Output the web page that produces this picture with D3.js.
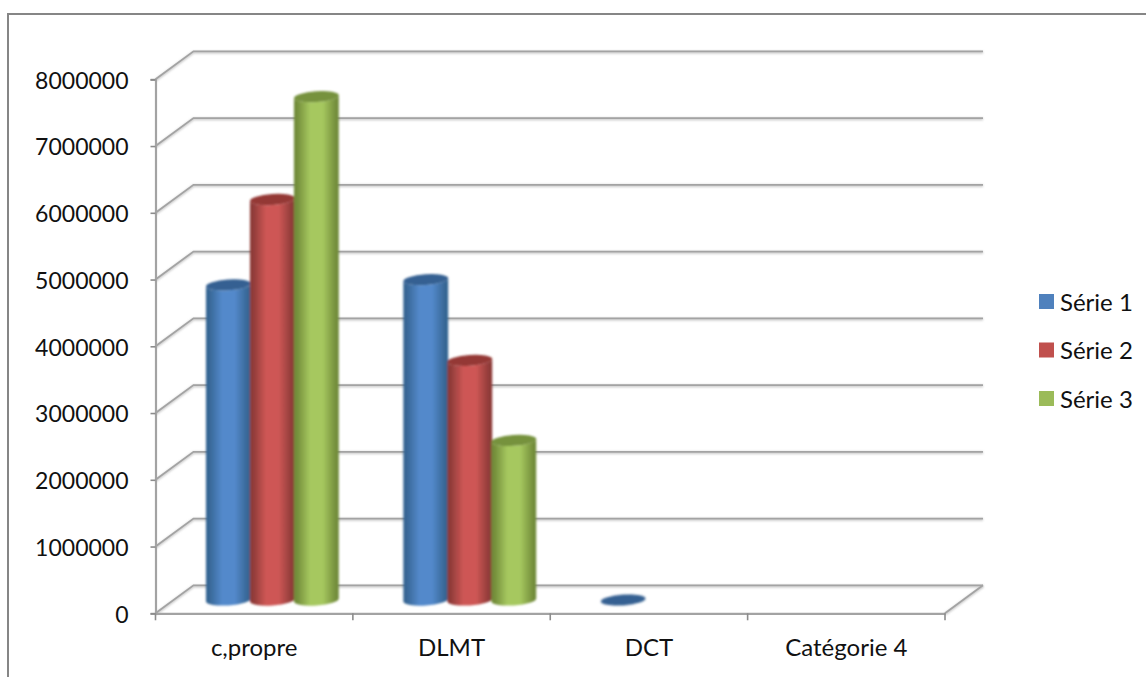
<!DOCTYPE html>
<html>
<head>
<meta charset="utf-8">
<script src="https://cdn.jsdelivr.net/npm/d3@7"></script>
<style>
  html, body { margin: 0; padding: 0; background: #fff; overflow: hidden; }
  svg { display: block; }
  text { font-family: Lato, "Open Sans", sans-serif; fill: #111; }
</style>
</head>
<body>
<script>
const categories = ["c,propre", "DLMT", "DCT", "Catégorie 4"];
const seriesNames = ["Série 1", "Série 2", "Série 3"];
const serie1 = [4720000, 4800000, 0, null];
const serie2 = [6000000, 3590000, null, null];
const serie3 = [7540000, 2390000, null, null];
const seriesValues = [serie1, serie2, serie3];
const yTicks = [0, 1000000, 2000000, 3000000, 4000000, 5000000, 6000000, 7000000, 8000000];

const palette = [
  { edge: "#366593", mid: "#5389cb", top: "#366092", key: "#4f81bd" },
  { edge: "#8d3a38", mid: "#ce5755", top: "#943735", key: "#c0504d" },
  { edge: "#728c3a", mid: "#a6c85f", top: "#76923c", key: "#9bbb59" }
];

const W = 1146, H = 677;
const plot = { left: 155.5, right: 945, top: 79.3, bottom: 613.3 };
const wall = { dx: 38, dy: 28 };         // offset of the back wall
const barDepth = { dx: 18.2, dy: 13.3 }; // offset of the cylinder axes
const tilt = -4;                         // rotation of the cylinder ellipses, degrees

const svg = d3.select("body").append("svg").attr("width", W).attr("height", H);
const defs = svg.append("defs");

defs.append("filter").attr("id", "soft").attr("x", "-5%").attr("y", "-5%")
  .attr("width", "110%").attr("height", "110%")
  .append("feGaussianBlur").attr("stdDeviation", 0.8);
const lineShadow = defs.append("filter").attr("id", "lineShadow")
  .attr("filterUnits", "userSpaceOnUse")
  .attr("x", 0).attr("y", 0).attr("width", W).attr("height", H);
lineShadow.append("feGaussianBlur").attr("stdDeviation", 0.9);

palette.forEach((p, i) => {
  const g = defs.append("linearGradient").attr("id", "cyl" + i)
    .attr("x1", 0).attr("x2", 1).attr("y1", 0).attr("y2", 0);
  [[0, p.edge], [0.06, p.edge], [0.36, p.mid], [0.64, p.mid], [0.94, p.edge], [1, p.edge]]
    .forEach(([o, c]) => g.append("stop").attr("offset", o).attr("stop-color", c));
});

const x0 = d3.scaleBand().domain(categories).range([plot.left, plot.right]);
const x1 = d3.scaleBand().domain(seriesNames).range([-66, 66]);
const y = d3.scaleLinear().domain([0, 8000000]).range([plot.bottom, plot.top]);

// Chart frame, open on the right and at the bottom
svg.append("path")
  .attr("d", d3.line()([[8, H], [8, 14], [W, 14]]))
  .attr("fill", "none").attr("stroke", "#868686").attr("stroke-width", 2);

// Walls of the 3D box
const gridColor = "#a3a3a3";
const wallLines = [];
yTicks.forEach(t => {
  const yf = y(t), yb = yf - wall.dy;
  wallLines.push([[plot.left, yf], [plot.left + wall.dx, yb], [plot.right + wall.dx, yb]]);
});
wallLines.push([[plot.right, plot.bottom], [plot.right + wall.dx, plot.bottom - wall.dy]]);
const lineGen = d3.line();
const walls = svg.append("g").attr("fill", "none");
walls.selectAll("path.shadow").data(wallLines).join("path").attr("class", "shadow")
  .attr("d", lineGen).attr("transform", "translate(0,1)")
  .attr("stroke", "#c8c8c8").attr("stroke-width", 2.6).attr("filter", "url(#lineShadow)");
walls.selectAll("path.line").data(wallLines).join("path").attr("class", "line")
  .attr("d", lineGen).attr("stroke", gridColor).attr("stroke-width", 1.8);

// Axes
const yAxis = d3.axisLeft(y).tickValues(yTicks).tickFormat(d3.format("d")).tickSize(5).tickPadding(22);
const yG = svg.append("g").attr("transform", `translate(${plot.left},0)`).call(yAxis);
const xAxis = d3.axisBottom(x0).tickValues(categories).tickSize(0).tickPadding(26);
const xG = svg.append("g").attr("transform", `translate(0,${plot.bottom})`).call(xAxis);
[yG, xG].forEach(g => {
  g.selectAll("line").attr("stroke", "#8c8c8c").attr("stroke-width", 1.6);
  g.select(".domain").attr("stroke", gridColor).attr("stroke-width", 2.2);
});
yG.selectAll("text").style("font-size", "23px").attr("dy", "0.38em");
xG.selectAll("text").style("font-size", "24px").attr("dy", "0.68em");
// Category boundary ticks sit between the labels
xG.selectAll("line.boundary").data(d3.range(categories.length + 1)).join("line")
  .attr("class", "boundary")
  .attr("x1", i => x0.range()[0] + i * x0.step()).attr("x2", i => x0.range()[0] + i * x0.step())
  .attr("y1", 0).attr("y2", 7)
  .attr("stroke", "#8c8c8c").attr("stroke-width", 1.6);

// Cylinders
const rad = tilt * Math.PI / 180;
function cylinderBody(cx, rx, ry, yTop, yBase) {
  const ex = rx * Math.cos(rad), ey = rx * Math.sin(rad);
  return `M${cx - ex},${yTop - ey} L${cx - ex},${yBase - ey} ` +
    `A${rx},${ry} ${tilt} 0 0 ${cx + ex},${yBase + ey} ` +
    `L${cx + ex},${yTop + ey} ` +
    `A${rx},${ry} ${tilt} 0 1 ${cx - ex},${yTop - ey} Z`;
}
const marks = svg.append("g").attr("filter", "url(#soft)");
seriesNames.forEach((name, si) => {
  categories.forEach((cat, ci) => {
    const v = seriesValues[si][ci];
    if (v === null) return;
    const cx = x0(cat) + x0.bandwidth() / 2 + barDepth.dx + x1(name) + x1.bandwidth() / 2;
    const rx = x1.bandwidth() / 2 + 0.5, ry = 5.4;
    const yTop = y(v) - barDepth.dy, yBase = y(0) - barDepth.dy;
    if (v > 0) {
      marks.append("path").attr("d", cylinderBody(cx, rx, ry, yTop, yBase))
        .attr("fill", `url(#cyl${si})`);
    }
    marks.append("ellipse").attr("cx", cx).attr("cy", yTop).attr("rx", rx).attr("ry", ry)
      .attr("transform", `rotate(${tilt} ${cx} ${yTop})`)
      .attr("fill", palette[si].top);
  });
});

// Legend
const legendY = d3.scalePoint().domain(seriesNames).range([301.5, 398.5]);
const legend = svg.append("g").selectAll("g").data(seriesNames).join("g")
  .attr("transform", d => `translate(1039,${legendY(d)})`);
legend.append("rect").attr("x", 0).attr("y", -7.5).attr("width", 15).attr("height", 15)
  .attr("fill", (d, i) => palette[i].key);
legend.append("text").attr("x", 21).attr("y", 1).attr("dy", "0.35em")
  .style("font-size", "24px").text(d => d);
</script>
</body>
</html>
